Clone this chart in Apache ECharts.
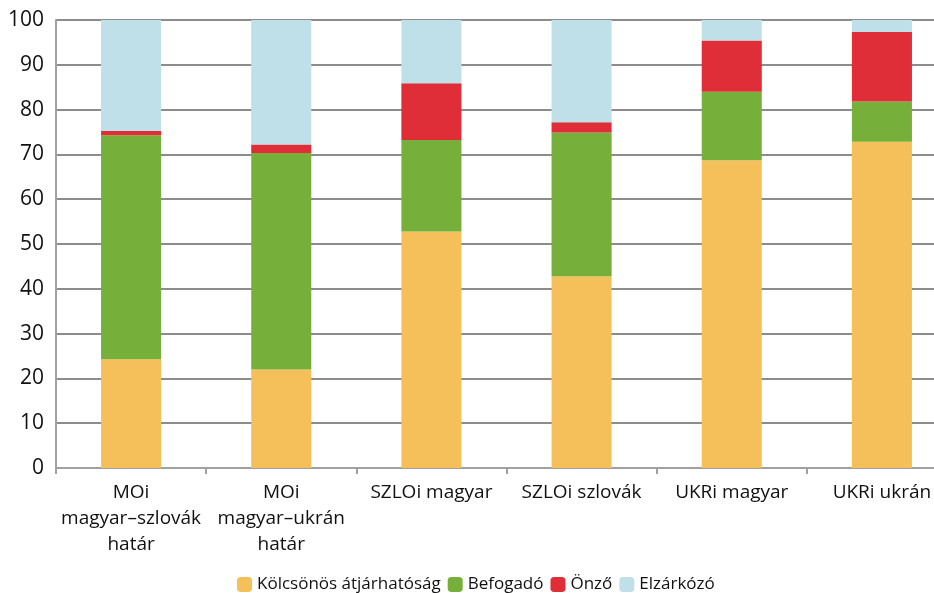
<!DOCTYPE html>
<html lang="hu">
<head>
    <meta charset="UTF-8">
    <title>Határ-típusok</title>
    <script src="https://cdn.jsdelivr.net/npm/echarts@6/dist/echarts.min.js"></script>
    <style>
        html, body { margin: 0; padding: 0; background: #fff; overflow: hidden; }
        /* the plot runs past the right edge in the original, so the canvas is wider than the window */
        #chart { width: 957px; height: 593px; }
    </style>
</head>
<body>
<div id="chart"></div>
<script>
// kategóriák és értékek (%)
var categories = ['MOi\nmagyar–szlovák\nhatár', 'MOi\nmagyar–ukrán\nhatár', 'SZLOi magyar', 'SZLOi szlovák', 'UKRi magyar', 'UKRi ukrán'];
var kolcsonos = [24.3, 22.0, 52.8, 42.8, 68.7, 72.8];
var befogado  = [50.0, 48.3, 20.4, 32.1, 15.3, 9.0];
var onzo      = [0.9, 1.9, 12.7, 2.3, 11.4, 15.5];
var elzarkozo = [24.8, 27.8, 14.1, 22.8, 4.6, 2.7];
var yTicks = [0, 10, 20, 30, 40, 50, 60, 70, 80, 90, 100];

var font = 'Open Sans';
var myChart = echarts.init(document.getElementById('chart'));

function bar(name, data, color) {
    return {
        name: name,
        type: 'bar',
        stack: 'total',
        data: data,
        barWidth: '40%',
        itemStyle: { color: color },
        emphasis: { disabled: true }
    };
}

var option = {
    animation: false,
    textStyle: { fontFamily: font },
    grid: { left: 56, top: 20, right: 0, bottom: 125 },
    legend: {
        bottom: -5,
        left: 232,
        itemWidth: 15,
        itemHeight: 15,
        itemGap: 7,
        textStyle: { fontSize: 17, color: '#111', fontFamily: font },
        data: ['Kölcsönös átjárhatóság', 'Befogadó', 'Önző', 'Elzárkózó']
    },
    xAxis: {
        type: 'category',
        data: categories,
        axisLine: { lineStyle: { color: '#a0a0a0', width: 2 } },
        axisTick: { show: true, length: 6, lineStyle: { color: '#a0a0a0', width: 2 } },
        axisLabel: { color: '#111', fontSize: 19, lineHeight: 26, margin: 12, interval: 0 }
    },
    yAxis: {
        type: 'value',
        min: yTicks[0],
        max: yTicks[yTicks.length - 1],
        interval: 10,
        axisLine: { show: true, lineStyle: { color: '#a0a0a0', width: 2 } },
        axisTick: { show: false },
        axisLabel: { color: '#111', fontSize: 21, margin: 12 },
        splitLine: { lineStyle: { color: '#666', width: 1.5 } }
    },
    series: [
        bar('Kölcsönös átjárhatóság', kolcsonos, '#f5c05a'),
        bar('Befogadó', befogado, '#76af39'),
        bar('Önző', onzo, '#df2e38'),
        bar('Elzárkózó', elzarkozo, '#bfe0e8')
    ]
};
myChart.setOption(option);
</script>
</body>
</html>
